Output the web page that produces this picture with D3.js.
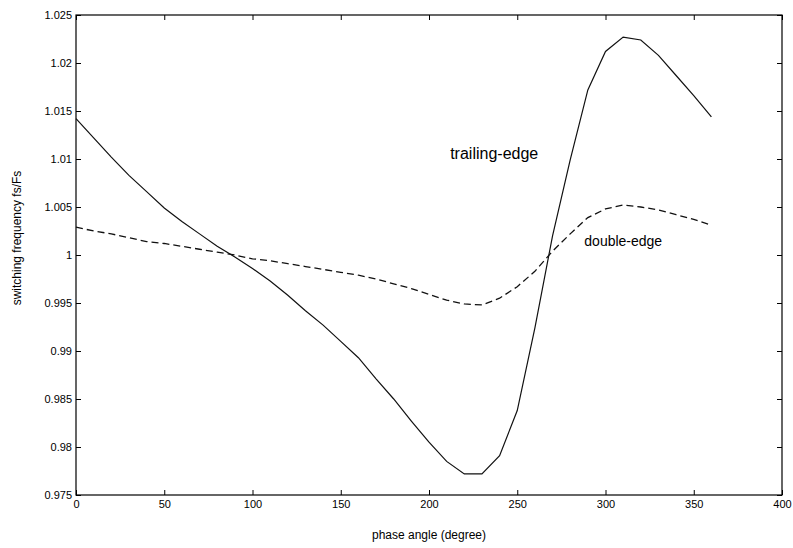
<!DOCTYPE html>
<html>
<head>
<meta charset="utf-8">
<script src="https://cdn.jsdelivr.net/npm/d3@7"></script>
<style>
  body { margin: 0; background: #fff; }
  svg { font-family: "Liberation Sans", Arial, sans-serif; }
</style>
</head>
<body>
<div id="chart"></div>
<script>
const MARGIN = { TOP: 15, BOTTOM: 53, LEFT: 76, RIGHT: 11 }
const WIDTH = 793 - MARGIN.LEFT - MARGIN.RIGHT
const HEIGHT = 548 - MARGIN.TOP - MARGIN.BOTTOM

// phase angle in degrees
const angles = d3.range(0, 361, 10)
const trailingEdge = [
  1.0142, 1.0122, 1.0102, 1.0083, 1.0066, 1.0049, 1.0035, 1.0022, 1.0009, 0.9998,
  0.9986, 0.9973, 0.9958, 0.9942, 0.9927, 0.9910, 0.9893, 0.9871, 0.9850, 0.9827,
  0.9805, 0.9785, 0.9772, 0.9772, 0.9791, 0.9838, 0.9924, 1.0020, 1.0099, 1.0172,
  1.0212, 1.0227, 1.0224, 1.0208, 1.0187, 1.0166, 1.0144
]
const doubleEdge = [
  1.0029, 1.0025, 1.0022, 1.0018, 1.0014, 1.0012, 1.0009, 1.0006, 1.0003, 1.0000,
  0.9996, 0.9994, 0.9991, 0.9988, 0.9985, 0.9982, 0.9979, 0.9975, 0.9970, 0.9965,
  0.9959, 0.9953, 0.9949, 0.9948, 0.9955, 0.9967, 0.9983, 1.0004, 1.0022, 1.0039,
  1.0048, 1.0052, 1.0050, 1.0047, 1.0042, 1.0037, 1.0031
]
const xTicks = [0, 50, 100, 150, 200, 250, 300, 350, 400]
const yTicks = [0.975, 0.98, 0.985, 0.99, 0.995, 1, 1.005, 1.01, 1.015, 1.02, 1.025]

const svg = d3.select("#chart").append("svg")
  .attr("width", 793)
  .attr("height", 548)

const g = svg.append("g")
  .attr("transform", `translate(${MARGIN.LEFT}, ${MARGIN.TOP})`)

const x = d3.scaleLinear().domain([0, 400]).range([0, WIDTH])
const y = d3.scaleLinear().domain([0.975, 1.025]).range([HEIGHT, 0])

const fmt = d => String(+d.toFixed(3))

// matlab style axes: inward ticks on every side
const xAxisCall = d3.axisBottom(x).tickValues(xTicks).tickSizeInner(-5).tickSizeOuter(0).tickPadding(5).tickFormat(fmt)
const yAxisCall = d3.axisLeft(y).tickValues(yTicks).tickSizeInner(-5).tickSizeOuter(0).tickPadding(4).tickFormat(fmt)

const xAxisGroup = g.append("g")
  .attr("transform", `translate(0, ${HEIGHT})`)
  .call(xAxisCall)
const yAxisGroup = g.append("g").call(yAxisCall)

g.append("g")
  .call(d3.axisTop(x).tickValues(xTicks).tickSizeInner(-5).tickSizeOuter(0).tickFormat(""))
g.append("g")
  .attr("transform", `translate(${WIDTH}, 0)`)
  .call(d3.axisRight(y).tickValues(yTicks).tickSizeInner(-5).tickSizeOuter(0).tickFormat(""))

g.selectAll(".domain").remove()
g.selectAll(".tick line").attr("stroke", "#000")
g.selectAll(".tick text")
  .attr("font-size", "11px")
  .attr("fill", "#000")
  .attr("font-family", "'Liberation Sans', Arial, sans-serif")

g.append("rect")
  .attr("width", WIDTH)
  .attr("height", HEIGHT)
  .attr("fill", "none")
  .attr("stroke", "#000")
  .attr("stroke-width", 1.2)

const line = d3.line()
  .x((d, i) => x(angles[i]))
  .y(d => y(d))

g.append("path")
  .datum(trailingEdge)
  .attr("d", line)
  .attr("fill", "none")
  .attr("stroke", "#111")
  .attr("stroke-width", 1.2)

g.append("path")
  .datum(doubleEdge)
  .attr("d", line)
  .attr("fill", "none")
  .attr("stroke", "#111")
  .attr("stroke-width", 1.3)
  .attr("stroke-dasharray", "7,4")

g.append("text")
  .attr("x", x(212))
  .attr("y", y(1.0100))
  .attr("font-size", "16px")
  .text("trailing-edge")

g.append("text")
  .attr("x", x(288))
  .attr("y", y(1.0009))
  .attr("font-size", "14px")
  .text("double-edge")

svg.append("text")
  .attr("x", MARGIN.LEFT + WIDTH / 2)
  .attr("y", 539)
  .attr("text-anchor", "middle")
  .attr("font-size", "12px")
  .text("phase angle (degree)")

svg.append("text")
  .attr("transform", `translate(21, 238) rotate(-90)`)
  .attr("text-anchor", "middle")
  .attr("font-size", "12px")
  .text("switching frequency fs/Fs")
</script>
</body>
</html>
